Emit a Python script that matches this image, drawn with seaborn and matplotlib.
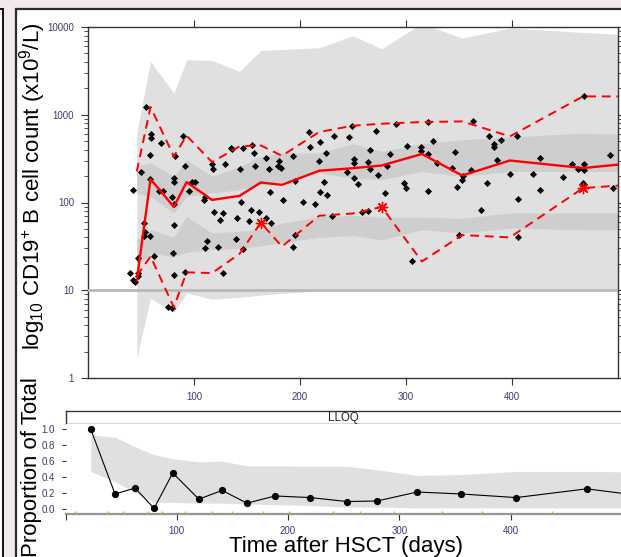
import numpy as np
import matplotlib
matplotlib.use("Agg")
import matplotlib.pyplot as plt
import seaborn as sns
from matplotlib.patches import Rectangle
from matplotlib.ticker import FixedLocator, LogLocator, NullFormatter

# ---------------- data ----------------
obs_time = [42.2, 54.4, 59.1, 59.1, 58.8, 69.2, 58.8, 49.7, 66.7, 71.1,
            79.2, 81.4, 80.8, 80.5, 81.4, 81.4, 82.1, 89.3, 91.5, 95.0,
            97.8, 101.2, 109.4, 110.7, 117.3, 117.6, 129.6, 134.6, 135.5, 143.4,
            145.9, 154.4, 156.9, 157.5, 167.9, 170.4, 179.9, 179.2, 182.1, 171.7,
            183.6, 193.4, 195.3, 203.1, 214.5, 208.5, 209.7, 217.6, 219.2,
            119.2, 127.4, 124.5, 140.3, 144.0, 151.6, 153.5, 161.6, 167.6, 172.9,
            112.5, 110.1, 123.0, 139.6, 146.5, 195.6, 193.1, 53.1, 54.1, 52.8,
            58.5, 62.0, 47.2, 39.6, 42.7, 44.3, 46.9, 47.5, 75.8, 79.0,
            81.1, 91.5, 127.1,
            224.8, 222.6, 219.2, 225.2, 230.2, 231.8, 246.5, 249.4, 271.7, 290.6,
            320.4, 325.5, 300.6, 314.2, 314.2, 320.4, 266.4, 284.9, 250.9, 251.2,
            263.8, 266.0, 244.6, 273.6, 281.8, 250.9, 254.7, 298.4, 300.0, 320.4,
            280.2, 258.8, 263.8, 329.6, 343.1, 346.5, 353.5, 353.1, 348.1, 361.6,
            362.9, 376.7, 370.8, 349.7, 305.7, 378.6, 383.3, 383.3, 389.9, 385.5,
            404.4, 397.8, 405.9, 405.4, 419.8, 426.1, 426.1, 448.4, 456.3, 461.9,
            467.9, 468.2, 466.7, 467.9, 492.5, 495.3]
obs_conc = [140, 1225, 596, 547, 347, 475, 187, 224, 136, 136,
            117, 96, 55, 26.5, 190, 170, 335, 577, 264, 136,
            171, 172, 107, 115, 274, 238, 274, 421, 406, 241,
            421, 447, 366, 260, 321, 238, 297, 264, 247, 131,
            107, 341, 177, 102, 95, 635, 424, 294, 492,
            78.5, 75, 63, 66.5, 102, 62, 83, 78, 66, 59,
            36.6, 30.5, 31.3, 38, 29.7, 43, 30.8, 58, 46.4, 41,
            41.5, 24.7, 23.3, 15.7, 13.2, 12.5, 15.7, 14.6, 6.5, 6.3,
            15, 16, 15.7,
            366, 172, 131, 122, 71, 577, 557, 750, 652, 775,
            826, 506, 436, 428, 382, 359, 396, 359, 313, 284,
            289, 240, 224, 207, 258, 191, 161, 169, 145, 134,
            129, 77, 81, 279, 249, 372, 203, 180, 150, 232,
            840, 169, 82, 42.6, 21.3, 567, 467, 424, 514, 307,
            577, 213, 109, 40, 211, 318, 139, 195, 277, 244,
            272, 232, 165, 1618, 350, 147]

knot_time = [46, 59, 81, 93, 117, 143, 163, 183, 218, 250, 277, 315, 353, 398, 467, 520]
pi_lo     = [1.7, 8.1, 5.6, 9.3, 7.9, 8.3, 8.8, 9.2, 9.8, 10, 10, 10, 10, 10, 10, 10]
pi_hi     = [624, 4045, 1766, 4240, 4160, 3116, 5400, 5550, 5800, 7940, 5650, 11000, 7480, 9730, 8670, 8000]
ci50_lo   = [128, 117, 76, 117, 128, 140, 160, 170, 217, 190, 182, 226, 198, 226, 226, 226]
ci50_hi   = [262, 281, 198, 307, 198, 258, 335, 366, 366, 468, 382, 470, 519, 557, 618, 590]
ci5_lo    = [18.7, 26.6, 24, 27, 29, 30, 32, 35, 40, 42, 37.6, 49, 45, 51, 49, 49]
ci5_hi    = [37.6, 49, 40, 69, 45, 47, 49, 58, 69, 71, 68, 68, 66, 76, 76, 76]
obs_p50   = [13, 185, 89, 171, 107, 119, 169, 159, 230, 246, 264, 357, 203, 301, 247, 285]
obs_p95   = [226, 1225, 335, 577, 289, 436, 447, 341, 635, 750, 790, 826, 840, 567, 1618, 1618]
obs_p5    = [14.6, 24.3, 6.4, 16, 15.7, 26, 59, 31.5, 70.6, 75, 89, 21.3, 42.6, 40, 146, 162]

flag_time = [163, 277, 467]
flag_conc = [59, 89, 146]

bin_mid     = [22.7, 44.5, 62.5, 79.6, 96.4, 119.8, 140.7, 163, 188.4, 219.9, 252.9, 279.9, 316, 355.7, 405, 468.3, 530]
prop_obs    = [1.0, 0.185, 0.26, 0.005, 0.45, 0.12, 0.23, 0.07, 0.16, 0.14, 0.09, 0.097, 0.21, 0.185, 0.14, 0.25, 0.14]
prop_ci_lo  = [0.47, 0.34, 0.2, 0.08, 0.08, 0.07, 0.07, 0.06, 0.05, 0.04, 0.02, 0.02, 0.01, 0.01, 0.01, 0.01, 0.01]
prop_ci_hi  = [0.93, 0.90, 0.78, 0.68, 0.63, 0.59, 0.60, 0.54, 0.54, 0.535, 0.535, 0.49, 0.42, 0.43, 0.47, 0.47, 0.46]
bin_edges   = [8.3, 38, 52, 74, 86.5, 107.7, 132, 149.7, 177.3, 200.7, 240.3, 265, 295, 338.5, 374, 437]

x_ticks = [100, 200, 300, 400]
y_ticks_top = [1, 10, 100, 1000, 10000]
y_ticks_bot = [0.0, 0.2, 0.4, 0.6, 0.8, 1.0]

# ---------------- style ----------------
sns.set_theme(style="white")
plt.rcParams['font.family'] = ['Liberation Sans', 'DejaVu Sans']
plt.rcParams['mathtext.fontset'] = 'custom'
plt.rcParams['mathtext.rm'] = 'Liberation Sans'
plt.rcParams['mathtext.it'] = 'Liberation Sans:italic'
plt.rcParams['mathtext.bf'] = 'Liberation Sans:bold'

W, H = 621, 557
fig = plt.figure(figsize=(W / 100, H / 100), dpi=100)
fig.patch.set_facecolor('#f1e9ea')

def fx(p):
    return p / W

def fy(p):
    return 1 - p / H

def box(x0, y0, x1, y1):
    return [fx(x0), fy(y1), (x1 - x0) / W, (y1 - y0) / H]

# window frames
fig.add_artist(Rectangle((fx(16), -0.01), 1.0, fy(9) + 0.01, transform=fig.transFigure,
                         facecolor='white', edgecolor='#2b2b2b', lw=1.6, zorder=-10))
fig.add_artist(Rectangle((-0.01, -0.01), fx(3) + 0.01, fy(9) + 0.01, transform=fig.transFigure,
                         facecolor='white', edgecolor='#111111', lw=1.4, zorder=-10))

TICKC = '#333333'
LABC = '#3c3c6e'

# ---------------- upper panel ----------------
ax1 = fig.add_axes(box(88, 27, 618, 378))
ax1.set_facecolor('white')
ax1.set_yscale('log')
ax1.fill_between(knot_time, pi_lo, pi_hi, color='#e0e0e0', lw=0, zorder=1)
ax1.fill_between(knot_time, ci50_lo, ci50_hi, color='#cecece', lw=0, zorder=2)
ax1.fill_between(knot_time, ci5_lo, ci5_hi, color='#cecece', lw=0, zorder=2)
ax1.axhline(10, color='#b8b8b8', lw=2, zorder=3)

sns.scatterplot(x=obs_time, y=obs_conc, marker='D', s=13, color='black', linewidth=0,
                ax=ax1, zorder=5, legend=False)
sns.lineplot(x=knot_time, y=obs_p50, color='red', lw=1.7, ax=ax1, sort=False,
             estimator=None, zorder=6, legend=False)
for yy in (obs_p95, obs_p5):
    sns.lineplot(x=knot_time, y=yy, color='red', lw=1.4, ax=ax1, sort=False,
                 estimator=None, zorder=6, legend=False, dashes=False,
                 linestyle=(0, (4.5, 3)))
sns.scatterplot(x=flag_time, y=flag_conc, marker=(8, 2, 0), s=55, color='red',
                linewidth=1.0, ax=ax1, zorder=7, legend=False)

ax1.set_xlim(0, 500)
ax1.set_ylim(1, 10000)
ax1.grid(False)
ax1.xaxis.set_major_locator(FixedLocator(x_ticks))
ax1.set_xticklabels([str(t) for t in x_ticks])
ax1.yaxis.set_major_locator(FixedLocator(y_ticks_top))
ax1.set_yticklabels([str(t) for t in y_ticks_top])
ax1.yaxis.set_minor_locator(LogLocator(base=10, subs=np.arange(2, 10), numticks=20))
ax1.yaxis.set_minor_formatter(NullFormatter())
ax1.xaxis.set_minor_locator(FixedLocator([]))
ax1.tick_params(axis='both', which='major', direction='out', length=5, width=0.8,
                color=TICKC, labelsize=7, labelcolor=LABC, pad=5,
                bottom=True, top=True, left=True, right=True,
                labelbottom=True, labeltop=False, labelleft=True, labelright=False)
ax1.tick_params(axis='y', which='minor', direction='out', length=3, width=0.6,
                color=TICKC, left=True, right=True)
for s in ax1.spines.values():
    s.set_color(TICKC)
    s.set_linewidth(1.0)
ax1.set_xlabel('')
ax1.set_ylabel('')

# ---------------- strip ----------------
axs = fig.add_axes(box(65.5, 410.7, 622, 424))
axs.set_facecolor('white')
axs.set_xticks([])
axs.set_yticks([])
for k, s in axs.spines.items():
    s.set_color(TICKC)
    s.set_linewidth(1.0)
axs.spines['right'].set_visible(False)
axs.text(0.5, 0.45, 'LLOQ', transform=axs.transAxes, ha='center', va='center',
         fontsize=8.3, color='#222222')

# ---------------- lower panel ----------------
ax2 = fig.add_axes(box(65.5, 424, 622, 514))
ax2.set_facecolor('white')
ax2.fill_between(bin_mid, prop_ci_lo, prop_ci_hi, color='#e0e0e0', lw=0, zorder=1)
sns.lineplot(x=bin_mid, y=prop_obs, color='black', lw=0.8, marker='o', markersize=5.2,
             markeredgewidth=0, ax=ax2, sort=False, estimator=None, zorder=5, legend=False)
sns.rugplot(x=bin_edges, height=0.035, color='#f5a000', lw=1.8, ax=ax2, zorder=4)
ax2.set_xlim(0, 500)
ax2.set_ylim(-0.067, 1.067)
ax2.grid(False)
ax2.xaxis.set_major_locator(FixedLocator([0] + x_ticks))
ax2.set_xticklabels([''] + [str(t) for t in x_ticks])
ax2.yaxis.set_major_locator(FixedLocator(y_ticks_bot))
ax2.set_yticklabels(['%.1f' % t for t in y_ticks_bot])
ax2.tick_params(axis='x', which='major', direction='out', length=4.5, width=0.8,
                color=TICKC, labelsize=7, labelcolor=LABC, pad=4, bottom=True)
ax2.tick_params(axis='y', which='major', direction='out', length=3, width=0.8,
                color=TICKC, labelsize=7, labelcolor=LABC, pad=4.5, left=True)
for k in ('top', 'right', 'left'):
    ax2.spines[k].set_visible(False)
ax2.spines['bottom'].set_color('#969696')
ax2.spines['bottom'].set_linewidth(1.6)
ax2.set_xlabel('')
ax2.set_ylabel('')

# ---------------- axis titles ----------------
fig.text(fx(39.5), fy(186.5), r'log$_{10}$ CD19$^{+}$ B cell count (x10$^{9}$/L)',
         rotation=90, rotation_mode='anchor', ha='center', va='baseline',
         fontsize=16, color='black')
fig.text(fx(37), fy(467), 'Proportion of Total', rotation=90, rotation_mode='anchor',
         ha='center', va='baseline', fontsize=16, color='black')
fig.text(fx(346), fy(552), 'Time after HSCT (days)', ha='center', va='baseline',
         fontsize=16, color='black')

fig.savefig('out.png', dpi=100, facecolor=fig.get_facecolor())
